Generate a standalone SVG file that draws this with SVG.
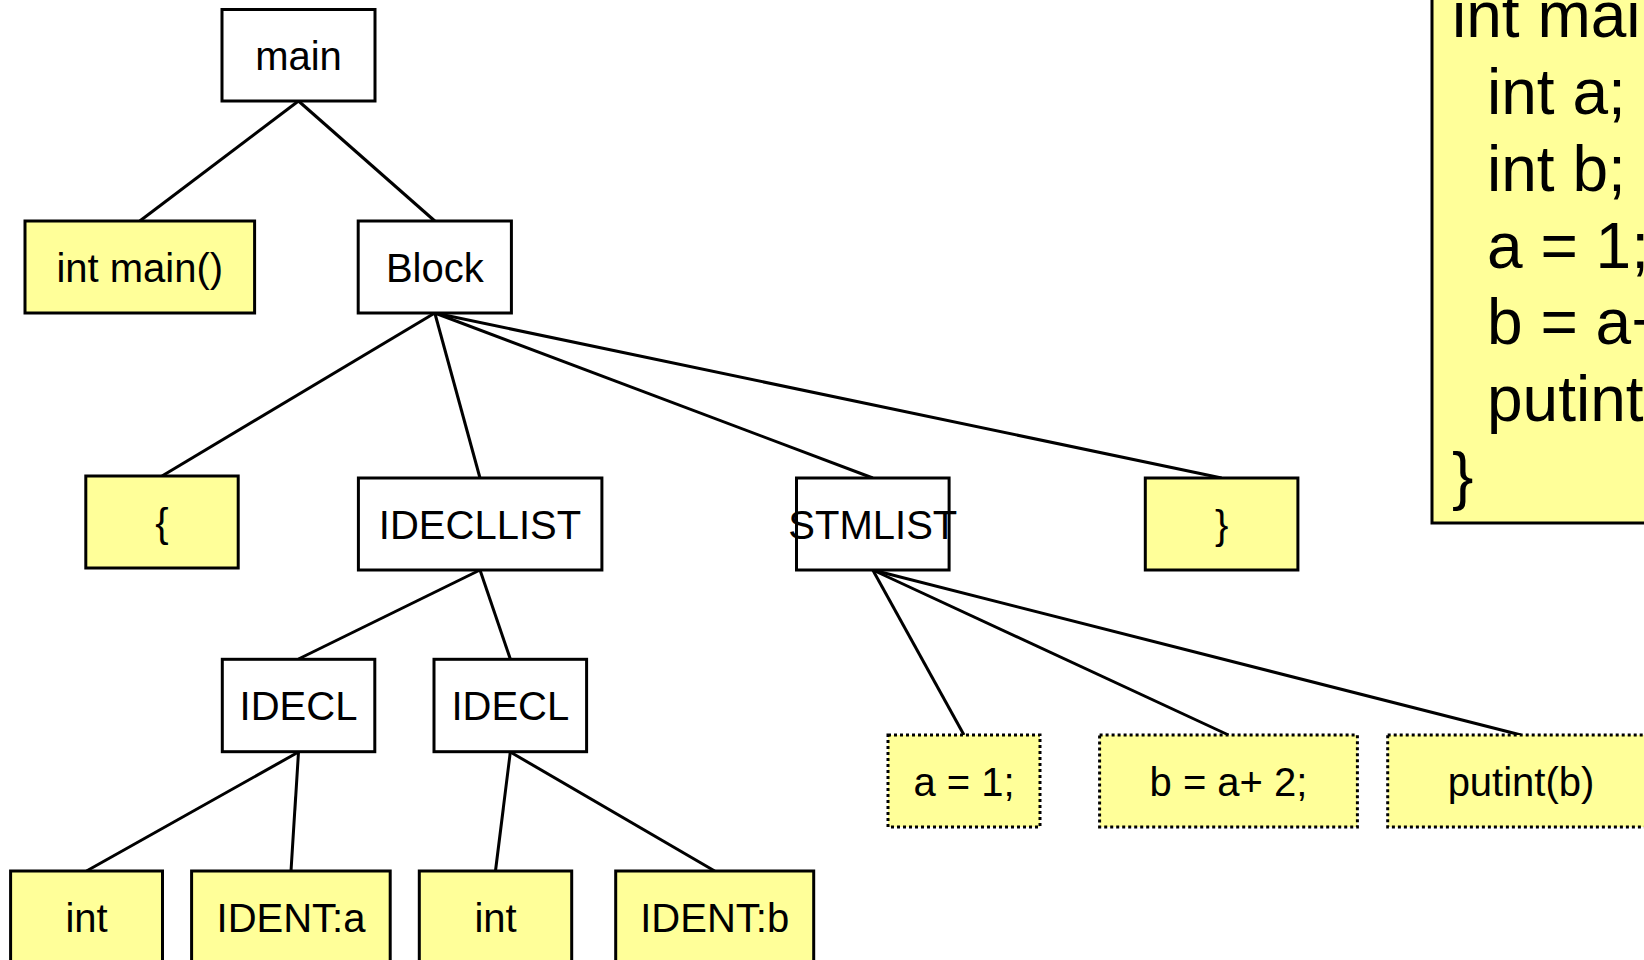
<svg xmlns="http://www.w3.org/2000/svg" width="1644" height="960" viewBox="0 0 1644 960">
<style>
.n{fill:#ffffff;stroke:#000;stroke-width:3}
.y{fill:#ffff99;stroke:#000;stroke-width:3}
.d{fill:#ffff99;stroke:#000;stroke-width:3;stroke-dasharray:3 3}
.t{font-family:"Liberation Sans",Arial,sans-serif;font-size:40px;fill:#000;text-anchor:middle}
.c{font-family:"Liberation Sans",Arial,sans-serif;font-size:64px;fill:#000}
.e{stroke:#000;stroke-width:3;fill:none}
</style>
<rect width="1644" height="960" fill="#ffffff"/>
<g id="connectors" class="e">
<line x1="298.5" y1="101" x2="139.8" y2="221"/>
<line x1="298.5" y1="101" x2="434.8" y2="221"/>
<line x1="434.8" y1="313" x2="162" y2="476"/>
<line x1="434.8" y1="313" x2="480" y2="478"/>
<line x1="434.8" y1="313" x2="872.8" y2="478"/>
<line x1="434.8" y1="313" x2="1221.6" y2="478"/>
<line x1="480" y1="570" x2="298.5" y2="659"/>
<line x1="480" y1="570" x2="510.3" y2="659"/>
<line x1="298.5" y1="752" x2="86.5" y2="871"/>
<line x1="298.5" y1="752" x2="291" y2="871"/>
<line x1="510.3" y1="752" x2="495.5" y2="871"/>
<line x1="510.3" y1="752" x2="714.7" y2="871"/>
<line x1="872.8" y1="570" x2="964" y2="735"/>
<line x1="872.8" y1="570" x2="1228.5" y2="735"/>
<line x1="872.8" y1="570" x2="1521" y2="735"/>
</g>
<g id="code">
<rect class="y" x="1432" y="-80" width="300" height="603"/>
<text class="c" x="1452" y="37">int main() {</text>
<text class="c" x="1487" y="114">int a;</text>
<text class="c" x="1487" y="191">int b;</text>
<text class="c" x="1487" y="268">a = 1;</text>
<text class="c" x="1487" y="344">b = a+ 2;</text>
<text class="c" x="1487" y="421">putint(b);</text>
<text class="c" x="1452" y="498">}</text>
</g>
<g id="main"><rect class="n" x="222" y="9.5" width="153" height="91.5"/><text class="t" x="298.5" y="69.5">main</text></g>
<g id="intmain"><rect class="y" x="25" y="221" width="229.6" height="92"/><text class="t" x="139.8" y="281.5">int main()</text></g>
<g id="block"><rect class="n" x="358.2" y="221" width="153.2" height="92"/><text class="t" x="434.8" y="281.5">Block</text></g>
<g id="lbrace"><rect class="y" x="85.8" y="476" width="152.4" height="92"/><text class="t" x="162" y="537">{</text></g>
<g id="idecllist"><rect class="n" x="358.4" y="478" width="243.5" height="92"/><text class="t" x="480" y="538.5">IDECLLIST</text></g>
<g id="stmlist"><rect class="n" x="796.5" y="478" width="152.6" height="92"/><text class="t" x="872.8" y="538.5">STMLIST</text></g>
<g id="rbrace"><rect class="y" x="1145.3" y="478" width="152.6" height="92"/><text class="t" x="1221.6" y="539">}</text></g>
<g id="idecl1"><rect class="n" x="222.3" y="659.3" width="152.5" height="92.4"/><text class="t" x="298.5" y="720">IDECL</text></g>
<g id="idecl2"><rect class="n" x="434" y="659.3" width="152.6" height="92.4"/><text class="t" x="510.3" y="720">IDECL</text></g>
<g id="int1"><rect class="y" x="10.6" y="871" width="151.9" height="92"/><text class="t" x="86.5" y="931.5">int</text></g>
<g id="identa"><rect class="y" x="191.6" y="871" width="198.6" height="92"/><text class="t" x="291" y="931.5">IDENT:a</text></g>
<g id="int2"><rect class="y" x="419.3" y="871" width="152.4" height="92"/><text class="t" x="495.5" y="931.5">int</text></g>
<g id="identb"><rect class="y" x="615.7" y="871" width="198" height="92"/><text class="t" x="714.7" y="931.5">IDENT:b</text></g>
<g id="stmt1"><rect class="d" x="888" y="735" width="152" height="92"/><text class="t" x="964" y="796">a = 1;</text></g>
<g id="stmt2"><rect class="d" x="1099.6" y="735" width="257.8" height="92"/><text class="t" x="1228.5" y="796">b = a+ 2;</text></g>
<g id="stmt3"><rect class="d" x="1387.7" y="735" width="266.6" height="92"/><text class="t" x="1521" y="796">putint(b)</text></g>
</svg>
